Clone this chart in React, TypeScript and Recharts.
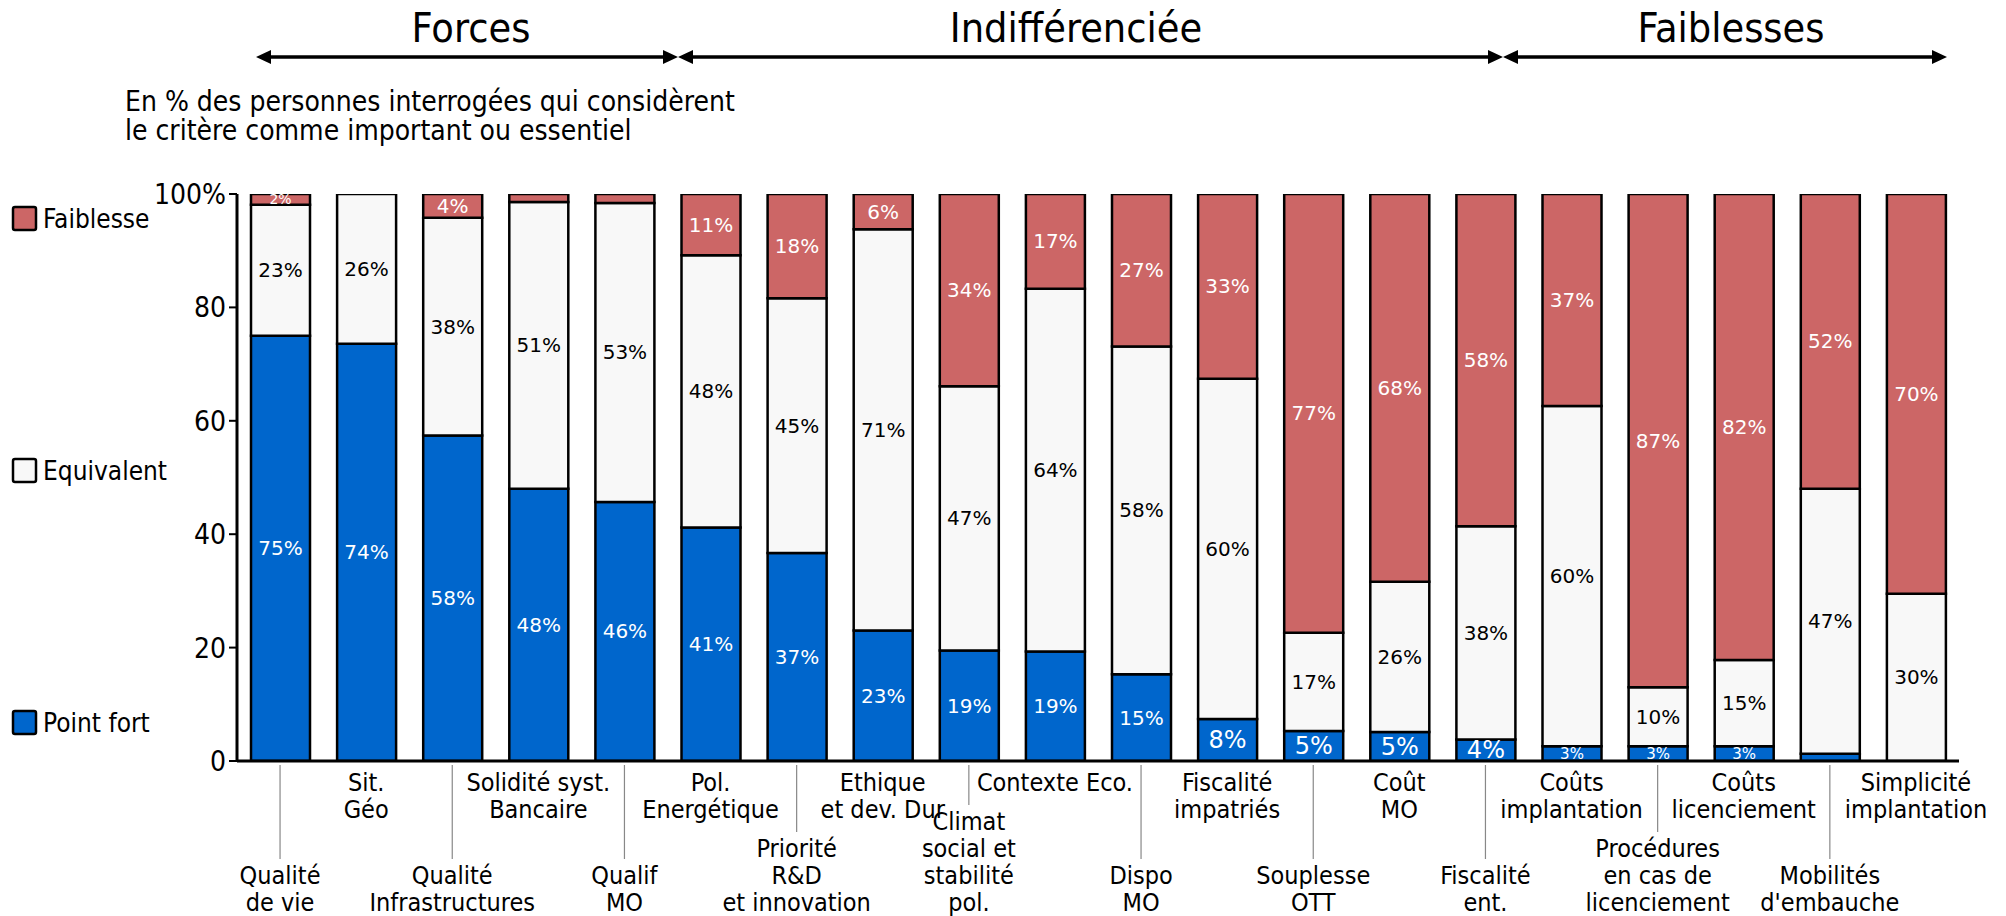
import React from 'react';
import { BarChart, Bar, XAxis, YAxis, LabelList } from 'recharts';

// ---- data ----
const categories: string[] = [
  'Qualité\nde vie',
  'Sit.\nGéo',
  'Qualité\nInfrastructures',
  'Solidité syst.\nBancaire',
  'Qualif\nMO',
  'Pol.\nEnergétique',
  'Priorité\nR&D\net innovation',
  'Ethique\net dev. Dur',
  'Climat\nsocial et\nstabilité\npol.',
  'Contexte Eco.',
  'Dispo\nMO',
  'Fiscalité\nimpatriés',
  'Souplesse\nOTT',
  'Coût\nMO',
  'Fiscalité\nent.',
  'Coûts\nimplantation',
  'Procédures\nen cas de\nlicenciement',
  'Coûts\nlicenciement',
  'Mobilités\nd\'embauche',
  'Simplicité\nimplantation',
];

const pointFort: number[] = [75.0, 73.6, 57.4, 48.0, 45.7, 41.2, 36.7, 23.0, 19.5, 19.3, 15.3, 7.4, 5.3, 5.1, 3.8, 2.6, 2.6, 2.6, 1.3, 0];
const equivalent: number[] = [23.1, 26.4, 38.4, 50.6, 52.7, 48.0, 44.9, 70.8, 46.6, 64.0, 57.8, 60.0, 17.3, 26.5, 37.6, 60.0, 10.4, 15.2, 46.7, 29.5];
const faiblesse: number[] = [1.9, 0, 4.2, 1.4, 1.6, 10.8, 18.4, 6.2, 33.9, 16.7, 26.9, 32.6, 77.4, 68.4, 58.6, 37.4, 87.0, 82.2, 52.0, 70.5];

const fortLabels: (number | null)[] = [75, 74, 58, 48, 46, 41, 37, 23, 19, 19, 15, 8, 5, 5, 4, 3, 3, 3, null, null];
const equivLabels: (number | null)[] = [23, 26, 38, 51, 53, 48, 45, 71, 47, 64, 58, 60, 17, 26, 38, 60, 10, 15, 47, 30];
const faibLabels: (number | null)[] = [2, null, 4, null, null, 11, 18, 6, 34, 17, 27, 33, 77, 68, 58, 37, 87, 82, 52, 70];

const fortLabelSizes: number[] = [20, 20, 20, 20, 20, 20, 20, 20, 20, 20, 20, 24, 24, 24, 24, 15, 15, 15, 20, 20];
const faibLabelSizes: number[] = [14, 20, 20, 20, 20, 20, 20, 20, 20, 20, 20, 20, 20, 20, 20, 20, 20, 20, 20, 20];

const yTicks: number[] = [0, 20, 40, 60, 80, 100];

const sections: string[] = ['Forces', 'Indifférenciée', 'Faiblesses'];
const subtitle: string[] = [
  'En % des personnes interrogées qui considèrent',
  'le critère comme important ou essentiel',
];
const legendItems: { name: string; color: string }[] = [
  { name: 'Faiblesse', color: '#CC6666' },
  { name: 'Equivalent', color: '#F8F8F8' },
  { name: 'Point fort', color: '#0066CC' },
];

const data = categories.map((name, i) => ({
  name,
  fort: pointFort[i],
  equiv: equivalent[i],
  faib: faiblesse[i],
}));

// ---- styles ----
const COND = "'DejaVu Sans Condensed', 'DejaVu Sans', sans-serif";
const VERD = "'DejaVu Sans', Verdana, sans-serif";
const BLUE = '#0066CC';
const RED = '#CC6666';
const WHITE = '#F8F8F8';

const makeLabel =
  (labels: (number | null)[], sizes: number[] | null, color: string) =>
  (p: any) => {
    const { x, y, width, height, value } = p;
    const index = categories.indexOf(String(value));
    if (index < 0) return null;
    const v = labels[index];
    if (v == null) return null;
    const fs = sizes ? sizes[index] : 20;
    return (
      <text
        x={Number(x) + Number(width) / 2}
        y={Number(y) + Number(height) / 2}
        textAnchor="middle"
        dominantBaseline="central"
        fill={color}
        fontSize={fs}
        fontFamily={VERD}
      >
        {v}%
      </text>
    );
  };

const nameKey = (d: any) => d.name;

const CatTick = (props: any) => {
  const { x, y, index } = props;
  const lines = categories[index].split('\n');
  const low = index % 2 === 0;
  const lh = 27;
  const fs = 25;
  let firstCenter: number;
  if (low) {
    firstCenter = y + 141 - (lines.length - 1) * lh;
  } else {
    firstCenter = y + 21;
  }
  return (
    <g>
      {low && (
        <line x1={x} x2={x} y1={y + 4} y2={firstCenter - 16} stroke="#888" strokeWidth={1.2} />
      )}
      <text
        x={x}
        textAnchor="middle"
        fontSize={fs}
        fontFamily={COND}
        style={{ fontStretch: 'condensed' }}
        fill="#000"
      >
        {lines.map((l, i) => (
          <tspan key={i} x={x} y={firstCenter + i * lh + 9}>
            {l}
          </tspan>
        ))}
      </text>
    </g>
  );
};

const Arrow = ({ x1, x2, y }: { x1: number; x2: number; y: number }) => (
  <g>
    <line x1={x1 + 10} x2={x2 - 10} y1={y} y2={y} stroke="#000" strokeWidth={3.5} />
    <polygon points={`${x1},${y} ${x1 + 15},${y - 7} ${x1 + 15},${y + 7}`} fill="#000" />
    <polygon points={`${x2},${y} ${x2 - 15},${y - 7} ${x2 - 15},${y + 7}`} fill="#000" />
  </g>
);

export default function App() {
  const sectionCenters = [471, 1076, 1731];
  const arrowBounds = [256, 678, 1503, 1947];
  const legendY = [207, 459, 711];
  return (
    <div style={{ position: 'absolute', left: 0, top: 0, width: 2006, height: 916, background: '#fff' }}>
      <BarChart
        width={2006}
        height={916}
        data={data}
        margin={{ top: 194, right: 47, bottom: 15, left: 157 }}
        barSize={59}
      >
        <XAxis
          dataKey="name"
          interval={0}
          tick={<CatTick />}
          tickLine={false}
          tickSize={0}
          tickMargin={0}
          height={140}
          axisLine={{ stroke: '#000', strokeWidth: 3 }}
        />
        <YAxis
          width={80}
          domain={[0, 100]}
          allowDataOverflow
          ticks={yTicks}
          interval={0}
          tickFormatter={(v: number) => (v === 100 ? '100%' : String(v))}
          axisLine={{ stroke: '#000', strokeWidth: 3 }}
          tickLine={{ stroke: '#000', strokeWidth: 2 }}
          tickSize={8}
          tickMargin={3}
          tick={{ fill: '#000', fontSize: 28, fontFamily: COND, style: { fontStretch: 'condensed' } } as any}
        />
        <Bar dataKey="fort" stackId="a" fill={BLUE} stroke="#000" strokeWidth={2.5} isAnimationActive={false}>
          <LabelList dataKey={nameKey} content={makeLabel(fortLabels, fortLabelSizes, '#fff')} />
        </Bar>
        <Bar dataKey="equiv" stackId="a" fill={WHITE} stroke="#000" strokeWidth={2.5} isAnimationActive={false}>
          <LabelList dataKey={nameKey} content={makeLabel(equivLabels, null, '#000')} />
        </Bar>
        <Bar dataKey="faib" stackId="a" fill={RED} stroke="#000" strokeWidth={2.5} isAnimationActive={false}>
          <LabelList dataKey={nameKey} content={makeLabel(faibLabels, faibLabelSizes, '#fff')} />
        </Bar>
      </BarChart>
      <svg
        width={2006}
        height={916}
        style={{ position: 'absolute', left: 0, top: 0, pointerEvents: 'none' }}
      >
        {sections.map((s, i) => (
          <text
            key={s}
            x={sectionCenters[i]}
            y={42}
            textAnchor="middle"
            fontSize={41}
            fontFamily={COND}
            style={{ fontStretch: 'condensed' }}
            fill="#000"
          >
            {s}
          </text>
        ))}
        {sections.map((s, i) => (
          <Arrow key={s + 'a'} x1={arrowBounds[i]} x2={arrowBounds[i + 1]} y={57} />
        ))}
        {subtitle.map((t, i) => (
          <text
            key={t}
            x={125}
            y={111 + i * 29}
            fontSize={28}
            fontFamily={COND}
            style={{ fontStretch: 'condensed' }}
            fill="#000"
          >
            {t}
          </text>
        ))}
        {legendItems.map((it, i) => (
          <g key={it.name}>
            <rect
              x={13}
              y={legendY[i]}
              width={23}
              height={23}
              rx={2}
              fill={it.color}
              stroke="#000"
              strokeWidth={2.5}
            />
            <text
              x={43}
              y={legendY[i] + 21}
              fontSize={26}
              fontFamily={COND}
              style={{ fontStretch: 'condensed' }}
              fill="#000"
            >
              {it.name}
            </text>
          </g>
        ))}
      </svg>
    </div>
  );
}
